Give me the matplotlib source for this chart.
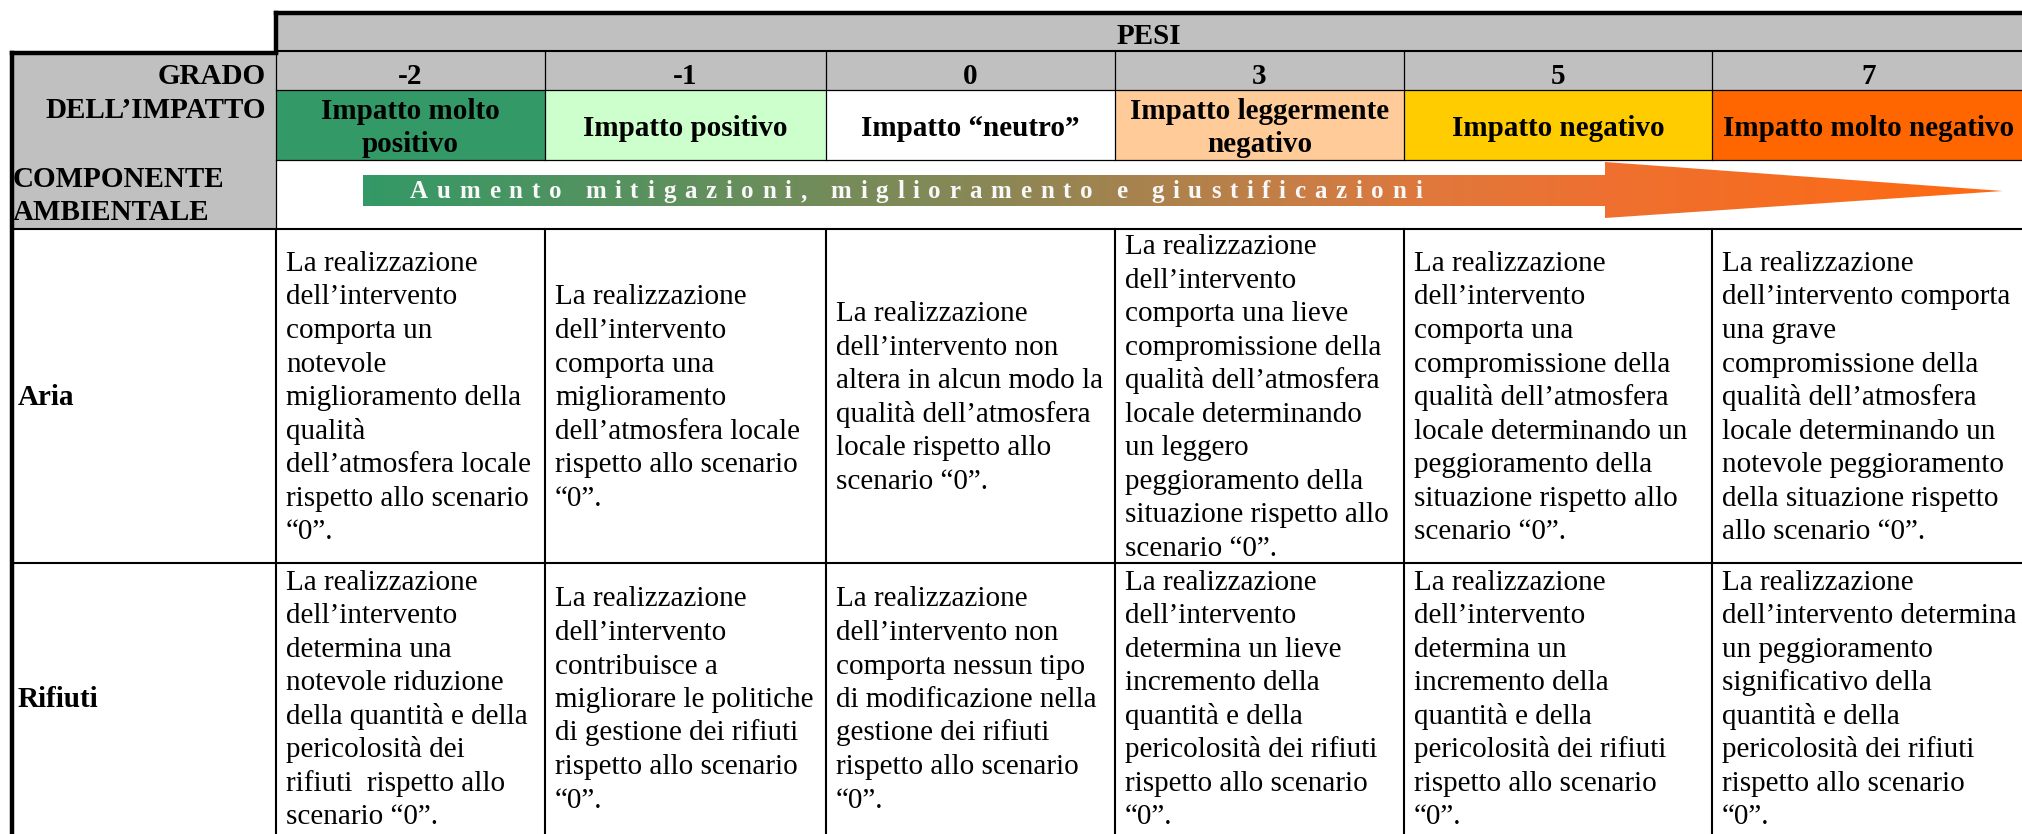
import numpy as np
import matplotlib
matplotlib.use('Agg')
import matplotlib.pyplot as plt
from matplotlib.patches import Rectangle, Polygon
from matplotlib.colors import LinearSegmentedColormap
from matplotlib.font_manager import FontProperties

plt.rcParams['font.family'] = ['Liberation Serif', 'DejaVu Serif']

# dati della tabella
pesi = ['-2', '-1', '0', '3', '5', '7']
gradi = ['Impatto molto\npositivo', 'Impatto positivo', 'Impatto “neutro”',
         'Impatto leggermente\nnegativo', 'Impatto negativo', 'Impatto molto negativo']
colori = ['#339966', '#CCFFCC', '#FFFFFF', '#FFCC99', '#FFCC00', '#FF6600']
componenti = ['Aria', 'Rifiuti']
freccia = 'Aumento mitigazioni, miglioramento e giustificazioni'

aria = [
    'La realizzazione\ndell’intervento\ncomporta un\nnotevole\nmiglioramento della\nqualità\n'
    'dell’atmosfera locale\nrispetto allo scenario\n“0”.',
    'La realizzazione\ndell’intervento\ncomporta una\nmiglioramento\ndell’atmosfera locale\n'
    'rispetto allo scenario\n“0”.',
    'La realizzazione\ndell’intervento non\naltera in alcun modo la\nqualità dell’atmosfera\n'
    'locale rispetto allo\nscenario “0”.',
    'La realizzazione\ndell’intervento\ncomporta una lieve\ncompromissione della\n'
    'qualità dell’atmosfera\nlocale determinando\nun leggero\npeggioramento della\n'
    'situazione rispetto allo\nscenario “0”.',
    'La realizzazione\ndell’intervento\ncomporta una\ncompromissione della\n'
    'qualità dell’atmosfera\nlocale determinando un\npeggioramento della\n'
    'situazione rispetto allo\nscenario “0”.',
    'La realizzazione\ndell’intervento comporta\nuna grave\ncompromissione della\n'
    'qualità dell’atmosfera\nlocale determinando un\nnotevole peggioramento\n'
    'della situazione rispetto\nallo scenario “0”.',
]
rifiuti = [
    'La realizzazione\ndell’intervento\ndetermina una\nnotevole riduzione\n'
    'della quantità e della\npericolosità dei\nrifiuti  rispetto allo\nscenario “0”.',
    'La realizzazione\ndell’intervento\ncontribuisce a\nmigliorare le politiche\n'
    'di gestione dei rifiuti\nrispetto allo scenario\n“0”.',
    'La realizzazione\ndell’intervento non\ncomporta nessun tipo\ndi modificazione nella\n'
    'gestione dei rifiuti\nrispetto allo scenario\n“0”.',
    'La realizzazione\ndell’intervento\ndetermina un lieve\nincremento della\n'
    'quantità e della\npericolosità dei rifiuti\nrispetto allo scenario\n“0”.',
    'La realizzazione\ndell’intervento\ndetermina un\nincremento della\n'
    'quantità e della\npericolosità dei rifiuti\nrispetto allo scenario\n“0”.',
    'La realizzazione\ndell’intervento determina\nun peggioramento\nsignificativo della\n'
    'quantità e della\npericolosità dei rifiuti\nrispetto allo scenario\n“0”.',
]
celle = [aria, rifiuti]

# impaginazione (pixel)
W, H = 2022, 834
xs = [12, 276, 545, 826, 1115, 1404, 1712, 2026]
y_pesi, y_num, y_grado, y_freccia, y_aria, y_rif, y_fine = 13, 52, 90, 160, 229, 563, 870
righe_y = [y_aria, y_rif, 833]
fs = 21
passo = 33.5
grigio = '#C0C0C0'

fig = plt.figure(figsize=(W / 100, H / 100), dpi=100)
ax = fig.add_axes([0, 0, 1, 1])


def testo(x, yc, s, ha='left', bold=False, p=passo, **kw):
    righe = s.split('\n')
    n = len(righe)
    for k, r in enumerate(righe):
        y = yc + (k - (n - 1) / 2) * p + 9
        ax.text(x, y, r, ha=ha, va='baseline', fontsize=fs,
                fontweight='bold' if bold else 'normal', **kw)


def linea(x0, x1, y0, y1, lw):
    ax.plot([x0, x1], [y0, y1], color='black', lw=lw, solid_capstyle='projecting')


# sfondi
ax.add_patch(Rectangle((xs[1], y_pesi), xs[-1] - xs[1], y_grado - y_pesi, fc=grigio, ec='none'))
ax.add_patch(Rectangle((xs[0], y_num), xs[1] - xs[0], y_aria - y_num, fc=grigio, ec='none'))

ax.text((xs[1] + xs[-1]) / 2 - 2, 44, 'PESI', ha='center', va='baseline', fontsize=fs, fontweight='bold')
testo(266, 92, 'GRADO\nDELL’IMPATTO', ha='right', bold=True, p=34)
testo(13, 194.5, 'COMPONENTE\nAMBIENTALE', bold=True, p=33)

for i, (p, g, c) in enumerate(zip(pesi, gradi, colori)):
    x0, x1 = xs[i + 1], xs[i + 2]
    xc = (x0 + x1) / 2
    ax.add_patch(Rectangle((x0, y_grado), x1 - x0, y_freccia - y_grado, fc=c, ec='none'))
    ax.text(xc, 84, p, ha='center', va='baseline', fontsize=fs, fontweight='bold')
    testo(xc, 126.5, g, ha='center', bold=True)

# righe delle componenti
for r, (nome, riga) in enumerate(zip(componenti, celle)):
    yc = (righe_y[r] + righe_y[r + 1]) / 2
    testo(xs[0] + 6, yc, nome, bold=True)
    for i, t in enumerate(riga):
        testo(xs[i + 1] + 10, yc, t)

# freccia sfumata
cmap = LinearSegmentedColormap.from_list('freccia', [
    (0.0, '#339966'), (0.39, '#8C8755'), (0.57, '#C77E46'),
    (0.65, '#E0783C'), (0.76, '#EE7030'), (1.0, '#FF6A10')])
grad = np.linspace(0, 1, 512).reshape(1, -1)
im = ax.imshow(grad, extent=[363, 2003, 218, 162], cmap=cmap, aspect='auto',
               interpolation='bilinear', zorder=2)
poly = Polygon([(363, 175), (1605, 175), (1605, 162), (2003, 191), (1605, 218),
                (1605, 206), (363, 206)], closed=True, fc='none', ec='none',
               transform=ax.transData)
ax.add_patch(poly)
im.set_clip_path(poly)

renderer = fig.canvas.get_renderer()
prop = FontProperties(family='Liberation Serif', weight='bold', size=18)
base = renderer.get_text_width_height_descent('||', prop, ismath=False)[0]
larg = [renderer.get_text_width_height_descent('|' + ch + '|', prop, ismath=False)[0] - base
        for ch in freccia]
x_ini, x_fin = 410, 1422
extra = (x_fin - x_ini - sum(larg)) / (len(freccia) - 1)
x = x_ini
for ch, w in zip(freccia, larg):
    ax.text(x, 198, ch, ha='left', va='baseline', fontproperties=prop, color='#F8F8F8', zorder=3)
    x += w + extra

# bordi
spesso, medio, fine = 3.2, 1.5, 0.9
linea(xs[1], xs[-1], y_pesi, y_pesi, spesso)
linea(xs[1], xs[1], y_pesi, y_num, spesso)
linea(xs[0], xs[1], y_num + 1, y_num + 1, spesso)
linea(xs[0], xs[0], y_num + 1, y_fine, spesso)
linea(xs[1], xs[-1], y_num - 1, y_num - 1, medio)
linea(xs[1], xs[-1], y_grado, y_grado, fine)
linea(xs[1], xs[-1], y_freccia, y_freccia, fine)
linea(xs[0], xs[-1], y_aria, y_aria, medio)
linea(xs[0], xs[-1], y_rif, y_rif, medio)
linea(xs[1], xs[1], y_num, y_aria, fine)
linea(xs[1], xs[1], y_aria, y_fine, medio)
for xv in xs[2:-1]:
    linea(xv, xv, y_num, y_freccia, fine)
    linea(xv, xv, y_aria, y_fine, medio)

ax.set_xlim(0, W)
ax.set_ylim(H, 0)
ax.axis('off')
fig.savefig('out.png', dpi=100)
